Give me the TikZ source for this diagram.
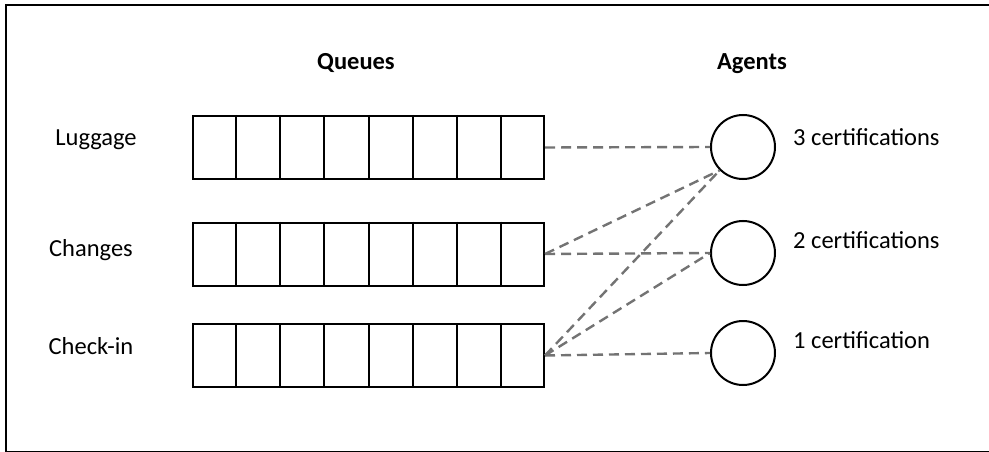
\documentclass[tikz,border=0pt]{standalone}
\usepackage{fontspec}
\setmainfont{Carlito}
\usetikzlibrary{calc}
\begin{document}
\begin{tikzpicture}[x=1pt,y=-1pt,
  queue/.style={draw, line width=2pt, minimum width=351pt, minimum height=63pt, inner sep=0pt, anchor=west},
  agent/.style={draw, circle, line width=2pt, minimum size=64pt, inner sep=0pt},
  link/.style={draw=black!55, line width=2.4pt, dash pattern=on 10pt off 6pt},
  lbl/.style={font=\fontsize{24.5}{29}\selectfont, anchor=base, inner sep=0pt},
  hdr/.style={lbl, font=\fontsize{24.5}{29}\selectfont\bfseries}]
\useasboundingbox (0,0) rectangle (989,452);
\draw[line width=2pt] (6,5) rectangle (1000,451.5);
% headers
\node[hdr] (hq) at (356,70) {Queues};
\node[hdr] (ha) at (752,70) {Agents};
% queues
\node[queue] (q1) at (192,147.5) {};
\node[queue] (q2) at (192,254) {};
\node[queue] (q3) at (192,355.5) {};
\foreach \q in {q1,q2,q3}{
  \foreach \i in {1,...,7}{
    \draw[line width=2pt] ($(\q.north west)!\i/8!(\q.north east)$) -- ($(\q.south west)!\i/8!(\q.south east)$);
  }
}
% queue labels
\node[lbl] (l1) at (96,146) {Luggage};
\node[lbl] (l2) at (91,256) {Changes};
\node[lbl] (l3) at (91,354) {Check-in};
% agents
\node[agent] (a1) at (743,147) {};
\node[agent] (a2) at (743,253) {};
\node[agent] (a3) at (743,353) {};
\node[lbl, anchor=base west] (c1) at (793,145) {3 certifications};
\node[lbl, anchor=base west] (c2) at (793,248) {2 certifications};
\node[lbl, anchor=base west] (c3) at (793,348) {1 certification};
% links
\draw[link] (q1.east) -- (a1.west);
\draw[link] (q2.east) -- (a1.south west);
\draw[link] (q2.east) -- (a2.west);
\draw[link] (q3.east) -- (a1.south west);
\draw[link] (q3.east) -- (a2.west);
\draw[link] (q3.east) -- (a3.west);
\end{tikzpicture}
\end{document}
